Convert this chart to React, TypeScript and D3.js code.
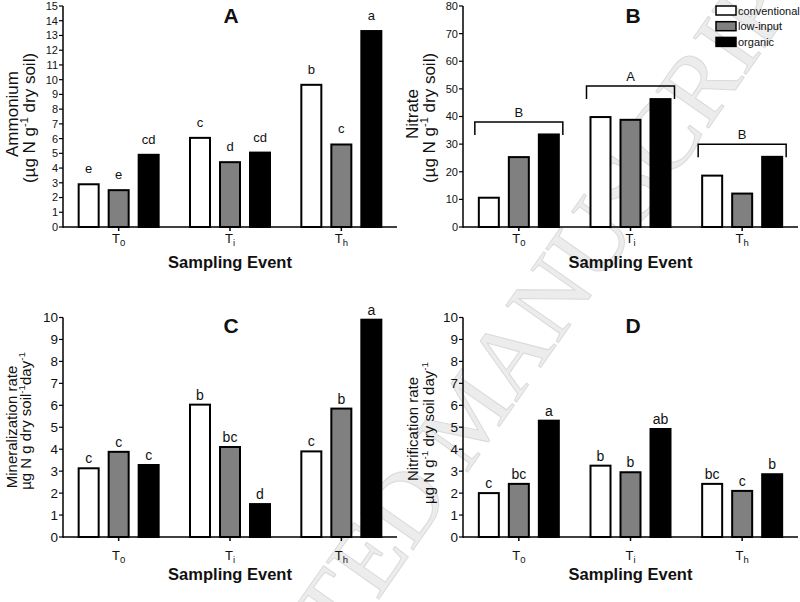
import React from "react";
import * as d3 from "d3";

const groups = ["T0", "Ti", "Th"];
const groupSubs = ["0", "i", "h"];
const series = ["conventional", "low-input", "organic"];
const seriesFill = ["#ffffff", "#808080", "#000000"];

const ammonium = [
  [2.9, 2.5, 4.9],
  [6.05, 4.4, 5.05],
  [9.65, 5.6, 13.3],
];
const ammoniumLetters = [
  ["e", "e", "cd"],
  ["c", "d", "cd"],
  ["b", "c", "a"],
];

const nitrate = [
  [10.6, 25.3, 33.5],
  [39.8, 38.8, 46.3],
  [18.6, 12.1, 25.4],
];
const nitrateBracketLevels = [38, 51, 30];
const nitrateBracketLabels = ["B", "A", "B"];

const mineralization = [
  [3.13, 3.88, 3.28],
  [6.03, 4.1, 1.5],
  [3.9, 5.85, 9.9],
];
const mineralizationLetters = [
  ["c", "c", "c"],
  ["b", "bc", "d"],
  ["c", "b", "a"],
];

const nitrification = [
  [2.0, 2.42, 5.3],
  [3.25, 2.95, 4.92],
  [2.42, 2.1, 2.86],
];
const nitrificationLetters = [
  ["c", "bc", "a"],
  ["b", "b", "ab"],
  ["bc", "c", "b"],
];

const ticksA = d3.range(0, 16, 1);
const ticksB = d3.range(0, 81, 10);
const ticksCD = d3.range(0, 11, 1);

const FONT = "'Liberation Sans', Arial, Helvetica, sans-serif";

type LabelLine = { parts: { t: string; sup?: boolean }[] };

type PanelProps = {
  title: string;
  data: number[][];
  letters?: string[][];
  letterOffset?: number;
  letterSize?: number;
  xRange: [number, number];
  yRange: [number, number];
  yMax: number;
  ticks: number[];
  tickSize: number;
  titlePos: [number, number];
  xTickBaseline: number;
  xLabelBaseline: number;
  yLabels: { x: number; y: number; size: number; line: LabelLine }[];
  brackets?: { levels: number[]; labels: string[] };
};

function Panel(p: PanelProps) {
  const x0 = d3.scaleBand<string>().domain(groups).range(p.xRange).paddingInner(0).paddingOuter(0);
  const x1 = d3
    .scaleBand<string>()
    .domain(series)
    .range([-45, 45])
    .paddingInner(1 / 3)
    .paddingOuter(1 / 6);
  const y = d3.scaleLinear().domain([0, p.yMax]).range(p.yRange);
  const axisX = p.xRange[0];
  const baseY = p.yRange[0];

  return (
    <g>
      {groups.map((g, gi) => {
        const cx = (x0(g) as number) + x0.bandwidth() / 2;
        return (
          <g key={g}>
            {series.map((s, si) => {
              const v = p.data[gi][si];
              const bx = cx + (x1(s) as number);
              return (
                <rect
                  key={s}
                  x={bx}
                  y={y(v)}
                  width={x1.bandwidth()}
                  height={baseY - y(v)}
                  fill={seriesFill[si]}
                  stroke="#000"
                  strokeWidth={2}
                />
              );
            })}
            {p.letters &&
              series.map((s, si) => {
                const v = p.data[gi][si];
                const bx = cx + (x1(s) as number) + x1.bandwidth() / 2;
                return (
                  <text
                    key={"l" + s}
                    x={bx}
                    y={y(v) - (p.letterOffset ?? 5)}
                    textAnchor="middle"
                    fontSize={p.letterSize ?? 13}
                    fontFamily={FONT}
                    fill="#111"
                  >
                    {p.letters![gi][si]}
                  </text>
                );
              })}
            {p.brackets && (() => {
              const left = cx + (x1(series[0]) as number) - 4;
              const right = cx + (x1(series[2]) as number) + x1.bandwidth() + 4;
              const lv = p.brackets!.levels[gi];
              const yTop = y(lv);
              const yBot = yTop + 13;
              return (
                <g>
                  <path
                    d={`M${left},${yBot}V${yTop}H${right}V${yBot}`}
                    fill="none"
                    stroke="#000"
                    strokeWidth={1.5}
                  />
                  <text
                    x={cx}
                    y={yTop - 5}
                    textAnchor="middle"
                    fontSize={13}
                    fontFamily={FONT}
                    fill="#111"
                  >
                    {p.brackets!.labels[gi]}
                  </text>
                </g>
              );
            })()}
            <line x1={cx} x2={cx} y1={baseY} y2={baseY + 4} stroke="#000" strokeWidth={1.5} />
            <text
              x={cx}
              y={p.xTickBaseline}
              textAnchor="middle"
              fontSize={13}
              fontFamily={FONT}
              fill="#111"
            >
              <tspan>T</tspan>
              <tspan dy={2.5} fontSize={9.5}>
                {groupSubs[gi]}
              </tspan>
            </text>
          </g>
        );
      })}
      <line x1={axisX} x2={p.xRange[1]} y1={baseY} y2={baseY} stroke="#000" strokeWidth={1.5} />
      <line x1={axisX} x2={axisX} y1={baseY + 0.75} y2={p.yRange[1]} stroke="#000" strokeWidth={1.5} />
      {p.ticks.map((t) => (
        <g key={t}>
          <line x1={axisX - 4} x2={axisX} y1={y(t)} y2={y(t)} stroke="#000" strokeWidth={1.2} />
          <text
            x={axisX - 5}
            y={y(t)}
            dy="0.36em"
            textAnchor="end"
            fontSize={p.tickSize}
            fontFamily={FONT}
            fill="#111"
          >
            {t}
          </text>
        </g>
      ))}
      <text
        x={p.titlePos[0]}
        y={p.titlePos[1]}
        textAnchor="middle"
        fontSize={21}
        fontWeight="bold"
        fontFamily={FONT}
        fill="#111"
      >
        {p.title}
      </text>
      <text
        x={(x0("Ti") as number) + x0.bandwidth() / 2}
        y={p.xLabelBaseline}
        textAnchor="middle"
        fontSize={16.5}
        fontWeight="bold"
        fontFamily={FONT}
        fill="#111"
      >
        Sampling Event
      </text>
      {p.yLabels.map((yl, i) => (
        <text
          key={i}
          transform={`translate(${yl.x},${yl.y}) rotate(-90)`}
          textAnchor="middle"
          fontSize={yl.size}
          fontFamily={FONT}
          fill="#111"
        >
          {yl.line.parts.map((pt, j) =>
            pt.sup ? (
              <tspan key={j} dy={-yl.size * 0.4} fontSize={yl.size * 0.65}>
                {pt.t}
              </tspan>
            ) : (
              <tspan key={j} dy={j > 0 && yl.line.parts[j - 1].sup ? yl.size * 0.4 : 0}>
                {pt.t}
              </tspan>
            )
          )}
        </text>
      ))}
    </g>
  );
}

function Legend() {
  return (
    <g>
      {series.map((s, i) => (
        <g key={s}>
          <rect
            x={716}
            y={6 + i * 15.7}
            width={20}
            height={9}
            fill={seriesFill[i]}
            stroke="#000"
            strokeWidth={1.5}
          />
          <text x={738} y={14.5 + i * 15.7} fontSize={11} fontFamily={FONT} fill="#111">
            {s}
          </text>
        </g>
      ))}
    </g>
  );
}

export default function App() {
  const ammLine2: LabelLine = {
    parts: [{ t: "(\u00b5g N g" }, { t: "-1", sup: true }, { t: " dry soil)" }],
  };
  return (
    <div style={{ position: "absolute", left: 0, top: 0 }}>
      <svg width={800} height={602} style={{ display: "block", background: "#fff" }}>
        <rect x={0} y={0} width={800} height={602} fill="#fff" />
        <text
          transform="translate(468,414) rotate(-55)"
          textAnchor="middle"
          dominantBaseline="central"
          fontSize={98}
          fontFamily="'Liberation Serif', 'Times New Roman', serif"
          fill="#ececec"
          stroke="#dadada"
          strokeWidth={1}
        >
          ACCEPTED MANUSCRIPT
        </text>
        <Panel
          title="A"
          data={ammonium}
          letters={ammoniumLetters}
          letterOffset={11}
          letterSize={13}
          xRange={[63, 397]}
          yRange={[227, 6]}
          yMax={15}
          ticks={ticksA}
          tickSize={11}
          titlePos={[231, 23]}
          xTickBaseline={243}
          xLabelBaseline={268}
          yLabels={[
            { x: 18, y: 114, size: 17, line: { parts: [{ t: "Ammonium" }] } },
            { x: 35, y: 118, size: 17, line: ammLine2 },
          ]}
        />
        <Panel
          title="B"
          data={nitrate}
          xRange={[463, 798]}
          yRange={[227, 6]}
          yMax={80}
          ticks={ticksB}
          tickSize={11}
          titlePos={[633, 23]}
          xTickBaseline={243}
          xLabelBaseline={268}
          yLabels={[
            { x: 418, y: 114, size: 17, line: { parts: [{ t: "Nitrate" }] } },
            { x: 435, y: 118, size: 17, line: ammLine2 },
          ]}
          brackets={{ levels: nitrateBracketLevels, labels: nitrateBracketLabels }}
        />
        <Legend />
        <Panel
          title="C"
          data={mineralization}
          letters={mineralizationLetters}
          letterOffset={5}
          letterSize={14}
          xRange={[63, 397]}
          yRange={[537, 317.5]}
          yMax={10}
          ticks={ticksCD}
          tickSize={13.5}
          titlePos={[231, 333]}
          xTickBaseline={560}
          xLabelBaseline={580}
          yLabels={[
            { x: 17, y: 427, size: 15, line: { parts: [{ t: "Mineralization rate" }] } },
            {
              x: 31,
              y: 421,
              size: 15,
              line: {
                parts: [
                  { t: "\u00b5g N g dry soil" },
                  { t: "-1", sup: true },
                  { t: "day" },
                  { t: "-1", sup: true },
                ],
              },
            },
          ]}
        />
        <Panel
          title="D"
          data={nitrification}
          letters={nitrificationLetters}
          letterOffset={5}
          letterSize={14}
          xRange={[463, 798]}
          yRange={[537, 317.5]}
          yMax={10}
          ticks={ticksCD}
          tickSize={13.5}
          titlePos={[633, 333]}
          xTickBaseline={560}
          xLabelBaseline={580}
          yLabels={[
            { x: 418, y: 429, size: 15, line: { parts: [{ t: "Nitrification rate" }] } },
            {
              x: 434,
              y: 433,
              size: 15,
              line: {
                parts: [
                  { t: "\u00b5g N g" },
                  { t: "-1", sup: true },
                  { t: " dry soil day" },
                  { t: "-1", sup: true },
                ],
              },
            },
          ]}
        />
      </svg>
    </div>
  );
}
